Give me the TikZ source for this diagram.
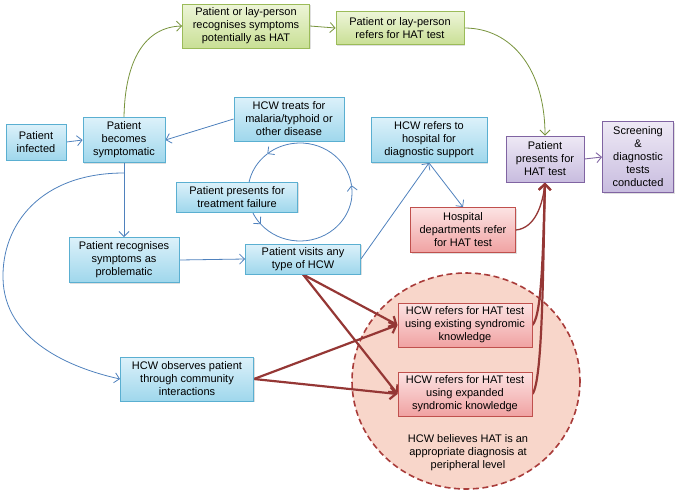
\documentclass[tikz,border=0pt]{standalone}
\usepackage{fontspec}
\setmainfont{Liberation Sans}
\usetikzlibrary{arrows.meta,shadows}
\pgfdeclarelayer{background}
\pgfsetlayers{background,main}
\definecolor{bfT}{HTML}{DCF1FA}
\definecolor{bfB}{HTML}{9FD7EC}
\definecolor{bdr}{HTML}{5AAFD1}
\definecolor{gfT}{HTML}{EDF5D8}
\definecolor{gfB}{HTML}{C9DF95}
\definecolor{gdr}{HTML}{9BBB59}
\definecolor{pfT}{HTML}{EEE9F5}
\definecolor{pfB}{HTML}{C8BCDF}
\definecolor{pdr}{HTML}{8064A2}
\definecolor{rfT}{HTML}{FCE3E3}
\definecolor{rfB}{HTML}{F0A2A2}
\definecolor{rdr}{HTML}{C0504D}
\definecolor{circfill}{HTML}{F8D6CA}
\definecolor{circdr}{HTML}{A93C3A}
\definecolor{bline}{HTML}{4F81BD}
\definecolor{gline}{HTML}{77933C}
\definecolor{rline}{HTML}{953735}
\begin{document}
\begin{tikzpicture}[x=1pt,y=-1pt,
  font=\fontsize{11}{13}\selectfont,
  basebox/.style={draw, line width=0.9pt, inner sep=0pt, align=center,
    drop shadow={shadow xshift=1.2pt, shadow yshift=-1.2pt, opacity=0.25}},
  bluebox/.style={basebox, draw=bdr, top color=bfT, bottom color=bfB},
  greenbox/.style={basebox, draw=gdr, top color=gfT, bottom color=gfB},
  purplebox/.style={basebox, draw=pdr, top color=pfT, bottom color=pfB},
  redbox/.style={basebox, draw=rdr, top color=rfT, bottom color=rfB},
  bluearr/.style={draw=bline, line width=0.8pt, -{Straight Barb[length=5pt,width=10pt]}},
  greenarr/.style={draw=gline, line width=0.8pt, -{Straight Barb[length=5pt,width=10pt]}},
  purplearr/.style={draw=pdr, line width=0.9pt, -{Straight Barb[length=5pt,width=10pt]}},
  redthick/.style={draw=rline, line width=2.2pt, -{Straight Barb[length=6pt,width=12pt]}},
  redthin/.style={draw=rline, line width=1.3pt}
]
\useasboundingbox (0,0) rectangle (681,499);

% nodes
\node[bluebox, minimum width=60pt, minimum height=36pt] (inf) at (36,142) {Patient\\infected};
\node[bluebox, minimum width=82pt, minimum height=45pt] (sym) at (124,140) {Patient\\becomes\\symptomatic};
\node[greenbox, minimum width=127pt, minimum height=44pt] (rec) at (246,26) {Patient or lay-person\\recognises symptoms\\potentially as HAT};
\node[greenbox, minimum width=128pt, minimum height=33pt] (ref) at (400,28) {Patient or lay-person\\refers for HAT test};
\node[bluebox, minimum width=110pt, minimum height=44pt] (treat) at (289,119) {HCW treats for\\malaria/typhoid or\\other disease};
\node[bluebox, minimum width=121pt, minimum height=30pt] (fail) at (237,197) {Patient presents for\\treatment failure};
\node[bluebox, minimum width=110pt, minimum height=45pt] (prob) at (124,260) {Patient recognises\\symptoms as\\problematic};
\node[bluebox, minimum width=115pt, minimum height=30pt] (visit) at (303,259) {Patient visits any\\type of HCW};
\node[bluebox, minimum width=116pt, minimum height=45pt] (hosp) at (429,140) {HCW refers to\\hospital for\\diagnostic support};
\node[redbox, minimum width=105pt, minimum height=45pt] (dept) at (463,230) {Hospital\\departments refer\\for HAT test};
\node[purplebox, minimum width=78pt, minimum height=46pt] (pres) at (545,159) {Patient\\presents for\\HAT test};
\node[purplebox, minimum width=71pt, minimum height=71pt] (screen) at (638,157) {Screening\\\&\\diagnostic\\tests\\conducted};
\node[redbox, minimum width=134pt, minimum height=44pt] (exist) at (465,325) {HCW refers for HAT test\\using existing syndromic\\knowledge};
\node[redbox, minimum width=134pt, minimum height=44pt] (expand) at (465,394) {HCW refers for HAT test\\using expanded\\syndromic knowledge};
\node[bluebox, minimum width=133pt, minimum height=44pt] (obs) at (187,379) {HCW observes patient\\through community\\interactions};
\node[align=center] (belief) at (468,453) {HCW believes HAT is an\\appropriate diagnosis at\\peripheral level};

\begin{pgfonlayer}{background}
  % dashed circle
  \draw[fill=circfill, draw=circdr, line width=1.6pt, dash pattern=on 6pt off 3.5pt]
    (466,381) ellipse [x radius=114, y radius=108];
  \coordinate (loopc) at (300,192);
  \coordinate (arcstart) at (124,173);

  % blue connectors
  \draw[bluearr] (inf.east) -- (sym.west);
  \draw[bluearr] (treat.west) -- (sym.east);
  \draw[bluearr] (sym.south) -- (prob.north);
  \draw[bluearr] (arcstart) .. controls (40,173) and (2,225) .. (3,278)
                 .. controls (4,340) and (70,368) .. (obs.west);
  \draw[bluearr] (prob.east) -- (visit.west);
  \draw[bluearr] (visit.east) -- (hosp.south);
  \draw[bluearr] (hosp.south) -- (dept.north);
  % loop
  \draw[bluearr] (loopc) ++(352:52 and 49) arc[start angle=352, end angle=231, x radius=52, y radius=49];
  \draw[bluearr] (loopc) ++(231:52 and 49) arc[start angle=231, end angle=139, x radius=52, y radius=49];
  \draw[bluearr] (loopc) ++(139:52 and 49) arc[start angle=139, end angle=-8, x radius=52, y radius=49];

  % green connectors
  \draw[greenarr] (sym.north) .. controls (125,60) and (145,27) .. (rec.west);
  \draw[greenarr] (rec.east) -- (ref.west);
  \draw[greenarr] (ref.east) .. controls (512,28) and (545,70) .. (pres.north);

  % purple
  \draw[purplearr] (pres.east) -- (screen.west);

  % red
  \draw[redthin] (dept.east) .. controls (535,228) and (543,205) .. (pres.south);
  \draw[redthick] (exist.east) .. controls (542,315) and (543,250) .. (pres.south);
  \draw[redthick] (expand.east) .. controls (543,380) and (543,260) .. (pres.south);
  \draw[redthick] (visit.south) -- (exist.west);
  \draw[redthick] (visit.south) -- (expand.west);
  \draw[redthick] (obs.east) -- (exist.west);
  \draw[redthick] (obs.east) -- (expand.west);
\end{pgfonlayer}
\end{tikzpicture}
\end{document}
